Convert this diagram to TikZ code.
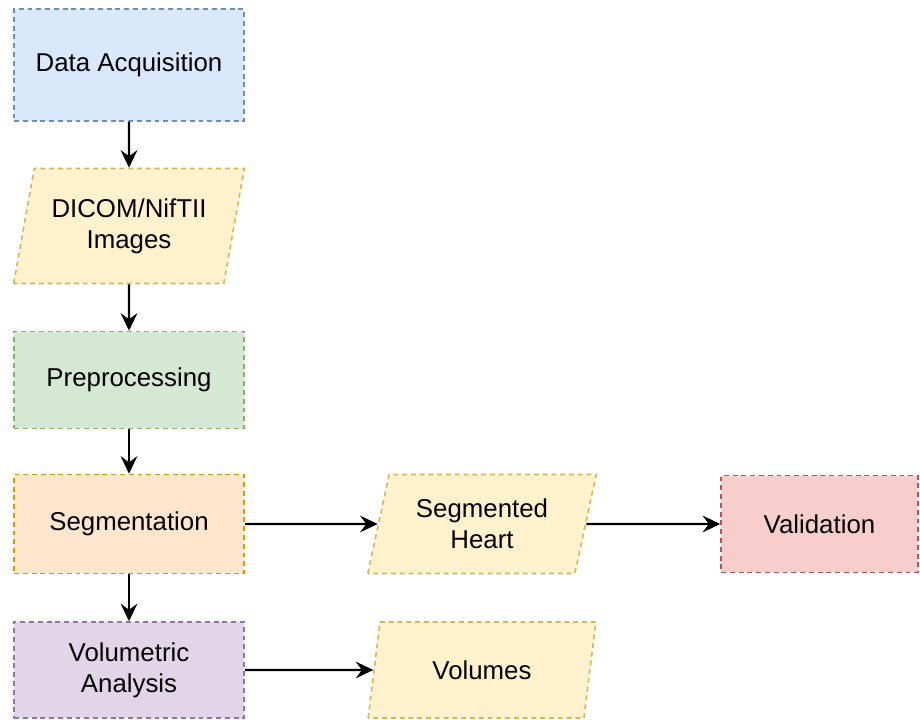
\documentclass[tikz,border=0pt]{standalone}
\usepackage{fontspec}
\setmainfont{Liberation Sans}
\usetikzlibrary{arrows.meta,shapes.geometric}

\definecolor{bluefill}{HTML}{DAE8FC}
\definecolor{bluedraw}{HTML}{6C8EBF}
\definecolor{yellowfill}{HTML}{FFF2CC}
\definecolor{yellowdraw}{HTML}{D6B656}
\definecolor{greenfill}{HTML}{D5E8D4}
\definecolor{greendraw}{HTML}{82B366}
\definecolor{orangefill}{HTML}{FFE6CC}
\definecolor{orangedraw}{HTML}{D79B00}
\definecolor{purplefill}{HTML}{E1D5E7}
\definecolor{purpledraw}{HTML}{9673A6}
\definecolor{redfill}{HTML}{F8CECC}
\definecolor{reddraw}{HTML}{B85450}

\begin{document}
\begin{tikzpicture}[x=0.02cm, y=-0.02cm,
  box/.style={rectangle, draw, line width=0.9pt, dash pattern=on 2.8pt off 2.2pt,
    align=center, inner sep=0pt, font=\fontsize{14.7}{17.5}\selectfont},
  databox/.style={box, trapezium, trapezium left angle=73, trapezium right angle=107,
    trapezium stretches=true, draw=yellowdraw, fill=yellowfill},
  flow/.style={-{Stealth[length=10pt, width=9.5pt, inset=3.5pt]}, line width=1.2pt}]
  \useasboundingbox (0,0) rectangle (920,720);

  % Main column (left)
  \node[box, draw=bluedraw, fill=bluefill, minimum width=4.6cm, minimum height=2.24cm]
    (acq) at (129,65) {Data Acquisition};
  \node[databox, minimum width=4.62cm, minimum height=2.3cm]
    (dicom) at (129,226) {DICOM/NifTII\\Images};
  \node[box, draw=greendraw, fill=greenfill, minimum width=4.6cm, minimum height=1.94cm]
    (prep) at (129,380) {Preprocessing};
  \node[box, draw=orangedraw, fill=orangefill, minimum width=4.6cm, minimum height=1.98cm]
    (seg) at (129,524) {Segmentation};
  \node[box, draw=purpledraw, fill=purplefill, minimum width=4.6cm, minimum height=1.92cm]
    (vol) at (129,670) {Volumetric\\Analysis};

  % Outputs (right)
  \node[databox, minimum width=4.58cm, minimum height=1.98cm]
    (heart) at (482,524) {Segmented\\Heart};
  \node[box, draw=reddraw, fill=redfill, minimum width=3.94cm, minimum height=1.94cm]
    (valid) at (819.5,524) {Validation};
  \node[databox, minimum width=4.58cm, minimum height=1.92cm]
    (volumes) at (482,670) {Volumes};

  \draw[flow] (acq) -- (dicom);
  \draw[flow] (dicom) -- (prep);
  \draw[flow] (prep) -- (seg);
  \draw[flow] (seg) -- (vol);
  \draw[flow] (seg) -- (heart);
  \draw[flow] (heart) -- (valid);
  \draw[flow] (vol) -- (volumes);
\end{tikzpicture}
\end{document}
